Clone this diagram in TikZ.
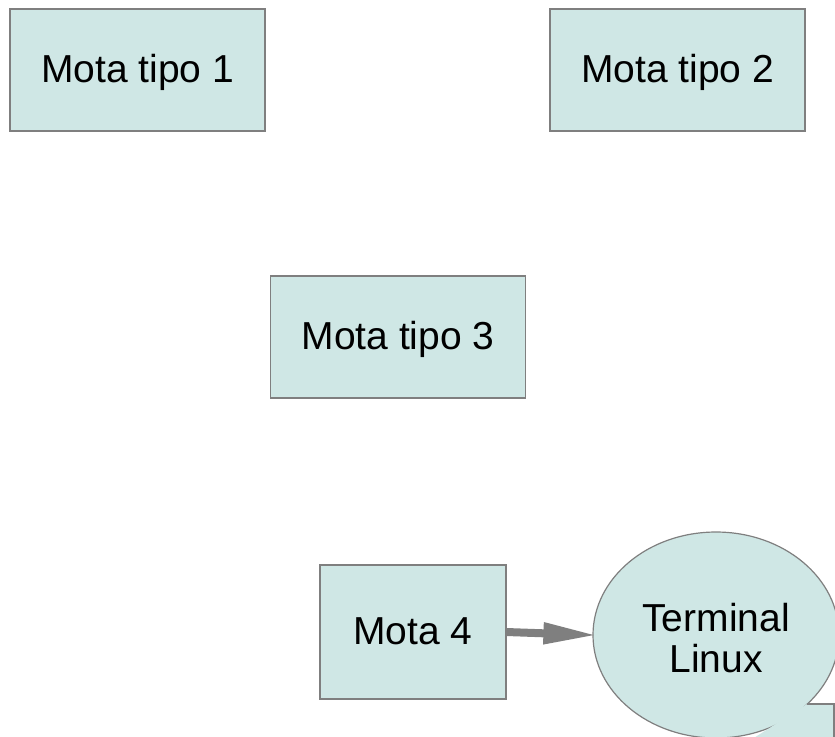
\documentclass[tikz,border=0pt]{standalone}
\usepackage{fontspec}
\setmainfont{Liberation Sans}
\usetikzlibrary{arrows.meta}
\usetikzlibrary{shapes.geometric}
\definecolor{motafill}{HTML}{CFE7E5}
\definecolor{motaline}{HTML}{7F7F7F}
\tikzset{mota/.style={rectangle, draw=motaline, fill=motafill, line width=0.6pt,
                      inner sep=0pt, minimum width=127.5pt, minimum height=61pt,
                      text height=16pt, text depth=4pt,
                      font=\fontsize{19.5}{20.5}\selectfont}}
\tikzset{term/.style={ellipse, draw=motaline, fill=motafill, line width=0.6pt,
                      inner sep=0pt, minimum width=123pt, minimum height=103pt,
                      align=center, font=\fontsize{19.5}{20.5}\selectfont}}
\tikzset{flecha/.style={-{Triangle[length=27pt,width=10pt]}, draw=motaline,
                        line width=4pt, shorten >=-2.5pt}}

\begin{document}
\begin{tikzpicture}[x=0.5pt,y=-0.5pt]
   \useasboundingbox (0,0) rectangle (835,736);
   \clip (0,0) rectangle (835,736);

   \node[mota] (M1) at (137.5,70) {Mota tipo 1};
   \node[mota] (M2) at (677.5,70) {Mota tipo 2};
   \node[mota] (M3) at (398,337)  {Mota tipo 3};
   \node[mota, minimum width=93pt, minimum height=67pt] (M4) at (413,632) {Mota 4};

   \node[term] (TL) at (716,635) {\rule{0pt}{17pt}Terminal\\Linux};
   % pico del bocadillo, sale por la esquina
   \coordinate (P1) at (807,704);
   \coordinate (P2) at (834,704);
   \coordinate (P3) at (834,750);
   \fill[motafill] (P1) -- (P2) -- (P3) -- (735,750) -- cycle;
   \draw[motaline, line width=0.6pt] (P1) -- (P2) -- (P3);

   \draw[flecha] (M4.east) -- (TL.west);
\end{tikzpicture}
\end{document}
